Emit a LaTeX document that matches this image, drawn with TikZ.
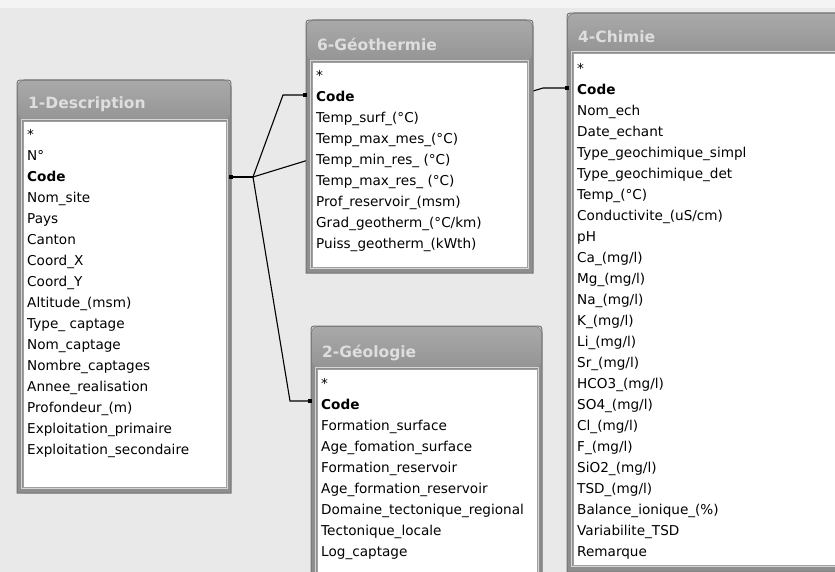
\documentclass[tikz,border=0pt]{standalone}
\usepackage{fontspec}
\setmainfont{DejaVu Sans}
\definecolor{bgc}{HTML}{E9E9E9}
\definecolor{topc}{HTML}{F4F4F4}
\definecolor{framec}{HTML}{8E8E8E}
\definecolor{frameline}{HTML}{727272}
\definecolor{titletop}{HTML}{A9A9A9}
\definecolor{titlebot}{HTML}{959595}
\definecolor{titletext}{HTML}{DEDEDE}
\definecolor{boxline}{HTML}{A0A0A0}
\definecolor{boxlight}{HTML}{D6D6D6}
\newcommand\dbframe[9]{% x1 y1 x2 y2 wx1 wy1 wx2 wy2 name
  \fill[framec,rounded corners=7] (#1,#2) rectangle (#3,#4);
  \fill[framec] (#1,#2+20) rectangle (#3,#4);
  \shade[top color=titletop,bottom color=titlebot,rounded corners=6] (#1+1,#2+1) rectangle (#3-1,#6-2);
  \draw[frameline,line width=1] (#1,#4) -- (#1,#2+7) .. controls (#1,#2) .. (#1+7,#2) -- (#3-7,#2) .. controls (#3,#2) .. (#3,#2+7) -- (#3,#4) -- cycle;
  \draw[boxlight,line width=1.2] (#5-1.5,#6-1.5) rectangle (#7+1.5,#8+1.5);
  \fill[white,draw=boxline,line width=0.8] (#5,#6) rectangle (#7,#8);
  \coordinate (#9) at (#1,#2);
}
\newcommand\dbfields[4]{%
  \foreach \t [count=\i from 0] in {#4} {\node[fld] (#1\i) at (#2,#3+21*\i) {\t};}}
\begin{document}
\begin{tikzpicture}[x=1pt,y=-1pt,
  fld/.style={anchor=base west,inner sep=0pt,font=\fontsize{13.6}{16}\selectfont},
  ttl/.style={anchor=base west,inner sep=0pt,text=titletext,font=\bfseries\fontsize{15.5}{18}\selectfont},
  link/.style={line width=1.1,black},
  port/.style={fill=black,minimum size=4pt,inner sep=0pt,rectangle}]
\useasboundingbox (0,0) rectangle (835,572);
\fill[bgc] (0,0) rectangle (835,572);
\fill[topc] (0,0) rectangle (835,8);
% connector coordinates
\coordinate (J) at (253,177);
\coordinate (dP) at (231,177);
\coordinate (gB) at (283,95);
\coordinate (gP) at (305,95);
\coordinate (cB) at (543,88);
\coordinate (cP) at (567,88);
\coordinate (lB) at (290,401);
\coordinate (lP) at (310,401);
\draw[link] (dP) -- (J);
\draw[link] (J) -- (gB) -- (gP);
\draw[link] (J) -- (cB) -- (cP);
\draw[link] (J) -- (lB) -- (lP);
% 1-Description
\dbframe{17}{80}{231}{493}{23}{121}{226}{487}{desc}
\node[ttl] (descT) at (28,108.5) {1-Description};
\dbfields{d}{27}{139.7}{*,N°,{\bfseries Code},Nom\_site,Pays,Canton,Coord\_X,Coord\_Y,Altitude\_(msm),Type\_ captage,Nom\_captage,Nombre\_captages,Annee\_realisation,Profondeur\_(m),Exploitation\_primaire,Exploitation\_secondaire}
% 6-Geothermie
\dbframe{306}{20}{533}{273}{312}{62}{527}{267}{geo}
\node[ttl] (geoT) at (317,50.5) {6-Géothermie};
\dbfields{g}{316}{80.7}{*,{\bfseries Code},Temp\_surf\_(°C),Temp\_max\_mes\_(°C),Temp\_min\_res\_ (°C),Temp\_max\_res\_ (°C),Prof\_reservoir\_(msm),Grad\_geotherm\_(°C/km),Puiss\_geotherm\_(kWth)}
% 2-Geologie
\dbframe{311}{326}{542}{590}{317}{369}{537}{585}{gla}
\node[ttl] (glaT) at (322,357.5) {2-Géologie};
\dbfields{l}{321}{388.7}{*,{\bfseries Code},Formation\_surface,Age\_fomation\_surface,Formation\_reservoir,Age\_formation\_reservoir,Domaine\_tectonique\_regional,Tectonique\_locale,Log\_captage}
% 4-Chimie
\dbframe{567}{13}{860}{572}{573}{53}{855}{565}{chi}
\node[ttl] (chiT) at (578,42.5) {4-Chimie};
\dbfields{c}{577}{73.7}{*,{\bfseries Code},Nom\_ech,Date\_echant,Type\_geochimique\_simpl,Type\_geochimique\_det,Temp\_(°C),Conductivite\_(uS/cm),pH,Ca\_(mg/l),Mg\_(mg/l),Na\_(mg/l),K\_(mg/l),Li\_(mg/l),Sr\_(mg/l),HCO3\_(mg/l),SO4\_(mg/l),Cl\_(mg/l),F\_(mg/l),SiO2\_(mg/l),TSD\_(mg/l),Balance\_ionique\_(\%),Variabilite\_TSD,Remarque}
% ports
\node[port] at (dP) {};
\node[port] at (gP) {};
\node[port] at (cP) {};
\node[port] at (lP) {};
\end{tikzpicture}
\end{document}
